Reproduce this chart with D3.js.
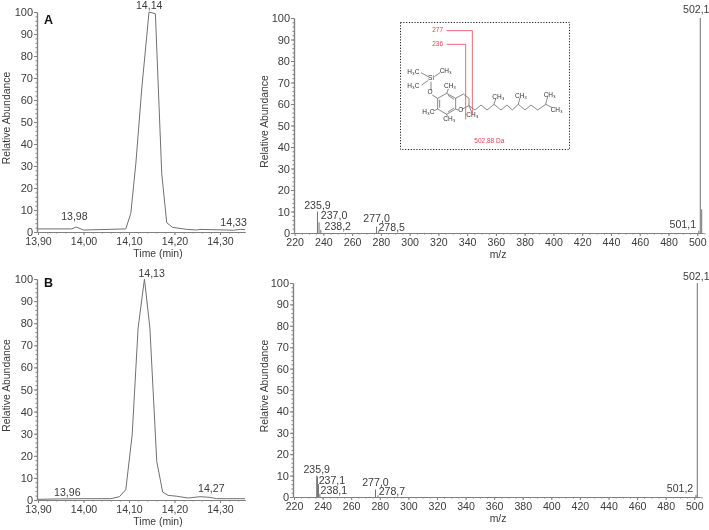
<!DOCTYPE html>
<html><head><meta charset="utf-8">
<script src="https://cdn.jsdelivr.net/npm/d3@7"></script>
<style>
html,body{margin:0;padding:0;background:#fff}
svg{display:block;filter:blur(0.35px)}
text{font-family:"Liberation Sans",Arial,sans-serif;fill:#3c3c3c}
</style></head><body><div id="c"></div>
<script>
// ---- data ----
const yTicks = [0,10,20,30,40,50,60,70,80,90,100];
const timeTicks = [13.9,14.0,14.1,14.2,14.3];
const timeTickLabels = ["13,90","14,00","14,10","14,20","14,30"];
const mzTicks = [220,240,260,280,300,320,340,360,380,400,420,440,460,480,500];

const timeA = [13.899,13.974,13.984,14.0,14.093,14.104,14.115,14.128,14.144,14.158,14.172,14.183,14.196,14.227,14.249,14.256,14.315,14.33,14.345,14.355];
const abundA = [1.4,1.4,2.3,0.9,1.4,8.5,31,65,100,99.2,26.5,4.2,2.1,1.2,0.9,1.2,0.9,0.8,1.2,1.1];
const timeB = [13.899,13.95,14.0,14.06,14.079,14.093,14.107,14.12,14.134,14.146,14.161,14.174,14.186,14.205,14.23,14.256,14.278,14.293,14.355];
const abundB = [0.3,0.5,0.6,0.6,1.5,4.7,29.5,77.7,100,77.7,17.5,3.6,2.1,1.7,0.9,1.5,1.2,0.6,0.6];

const mzA = [235.9,237.0,238.2,277.0,278.5,501.1,502.1,503.1];
const intA = [10,5,1.5,3,1,1,100,11];
const mzB = [235.9,236.4,237.1,238.1,277.0,278.7,501.2,502.1];
const intB = [10,9.5,6,1.5,3.5,0.8,1,100];

const peakLabelsA = ["13,98","14,14","14,33"];
const peakTimesA = [13.98,14.14,14.33];
const peakAbundA = [2.3,100,1];
const peakLabelsB = ["13,96","14,13","14,27"];
const peakTimesB = [13.96,14.13,14.27];
const peakAbundB = [0.5,100,1.5];
const mzLabelsA = ["235,9","237,0","238,2","277,0","278,5","501,1","502,1"];
const mzLabelValsA = [235.9,237.0,238.2,277.0,278.5,501.1,502.1];
const mzLabelIntA = [10,5,1.5,3,1,1,100];
const mzLabelsB = ["235,9","237,1","238,1","277,0","278,7","501,2","502,1"];
const mzLabelValsB = [235.9,237.1,238.1,277.0,278.7,501.2,502.1];
const mzLabelIntB = [10,6,1.5,3.5,0.8,1,100];

// ---- layout ----
const W=709,H=530, ink="#707070", axisInk="#808080";
const FS=10.6;
const svg=d3.select("#c").append("svg").attr("width",W).attr("height",H);

const range=(a,b,s)=>d3.range(a,b+s/2,s);

function frame(o){
  const g=svg.append("g");
  const y=d3.scaleLinear().domain([0,100]).range([o.y0,o.y1]);
  const x=d3.scaleLinear().domain(o.xd).range(o.xr);
  const clean=s=>{s.selectAll("path,line").attr("stroke",axisInk).attr("stroke-width",1);s.select(".domain").attr("stroke-width",1.2);};
  const ya=g.append("g").attr("transform",`translate(${o.ax},0)`)
    .call(d3.axisLeft(y).tickValues(yTicks).tickSize(3).tickPadding(1).tickSizeOuter(0));
  ya.call(clean); ya.selectAll("text").attr("font-size",FS+0.4).attr("fill","#3c3c3c");
  g.append("g").attr("transform",`translate(${o.ax},0)`)
    .call(d3.axisLeft(y).tickValues(range(0,100,2)).tickSize(1.5).tickFormat("").tickSizeOuter(0)).call(clean);
  const xa=g.append("g").attr("transform",`translate(0,${o.y0})`)
    .call(d3.axisBottom(x).tickValues(o.xt).tickSize(3).tickPadding(2).tickSizeOuter(0)
      .tickFormat(o.xf));
  xa.call(clean); xa.selectAll("text").attr("font-size",FS).attr("fill","#3c3c3c");
  g.append("g").attr("transform",`translate(0,${o.y0})`)
    .call(d3.axisBottom(x).tickValues(o.minor).tickSize(1.5).tickFormat("").tickSizeOuter(0)).call(clean);
  g.append("text").attr("x",o.xtitle).attr("y",o.y0+25).attr("text-anchor","middle")
    .attr("font-size",FS-0.2).text(o.xlabel);
  g.append("text").attr("transform",`translate(${o.ylx},${(o.y0+o.y1)/2-4}) rotate(-90)`)
    .attr("text-anchor","middle").attr("font-size",FS-0.2).text("Relative Abundance");
  return {g,x,y};
}

function chrom(o,times,abund,lt,la,ll,dx,dy,letter,ly){
  const f=frame({...o,xd:[13.9,14.355],xr:[38,245],xt:timeTicks,
    xf:(d,i)=>timeTickLabels[i],minor:range(13.9,14.35,0.02),xtitle:158,xlabel:"Time (min)",ylx:10,ax:37});
  f.g.append("path").datum(times.map((t,i)=>[t,abund[i]]))
    .attr("fill","none").attr("stroke",ink).attr("stroke-width",1)
    .attr("d",d3.line().x(d=>f.x(d[0])).y(d=>f.y(d[1])));
  f.g.selectAll(".pl").data(ll).join("text").attr("text-anchor","middle").attr("font-size",FS)
    .attr("x",(d,i)=>f.x(lt[i])+dx[i]).attr("y",(d,i)=>f.y(la[i])+dy[i]).text(d=>d);
  f.g.append("text").attr("x",44).attr("y",ly).attr("font-size",12.5).attr("font-weight","bold")
    .style("fill","#111").text(letter);
}

function spectrum(o,mz,inten,lv,li,ll,dx,dy){
  const f=frame({...o,xd:[220,504],xt:mzTicks,xf:d=>d,minor:range(220,504,5),
    xtitle:498,xlabel:"m/z",ylx:268});
  f.g.selectAll(".st").data(mz).join("line")
    .attr("x1",d=>f.x(d)).attr("x2",d=>f.x(d))
    .attr("y1",f.y(0)).attr("y2",(d,i)=>f.y(inten[i]))
    .attr("stroke",ink).attr("stroke-width",1);
  f.g.selectAll(".ml").data(ll).join("text").attr("text-anchor","middle").attr("font-size",FS)
    .attr("x",(d,i)=>f.x(lv[i])+dx[i]).attr("y",(d,i)=>f.y(li[i])+dy[i]).text(d=>d);
}

chrom({y0:232,y1:12},timeA,abundA,peakTimesA,peakAbundA,peakLabelsA,[0,2,0],[-7,-3,-4],"A",24);
chrom({y0:500,y1:279},timeB,abundB,peakTimesB,peakAbundB,peakLabelsB,[2,9,5],[-3,-2,-5],"B",287);

spectrum({y0:233,y1:18,ax:294,xr:[294.6,703]},mzA,intA,mzLabelValsA,mzLabelIntA,mzLabelsA,
  [0,15,17,0,13,-16,-4],[-3,-3,0,-5,0,-3,-5]);
spectrum({y0:497,y1:283,ax:293,xr:[294,700]},mzB,intB,mzLabelValsB,mzLabelIntB,mzLabelsB,
  [0,13.5,14,0,14,-16,-1],[-3,0,0,-3.5,0,-3,-3]);

// ---- inset: molecular structure ----
const red="#e0454f";
const ins=svg.append("g");
const zx=d3.scaleLinear().domain([0,180]).range([395,575]);
const zy=d3.scaleLinear().domain([0,140]).range([15,155]);
const P=(a,b)=>[zx(a/3),zy(b/3)];
ins.append("rect").attr("x",400.5).attr("y",22.5).attr("width",169).attr("height",127)
  .attr("fill","none").attr("stroke","#222").attr("stroke-width",1).attr("stroke-dasharray","1.2 1.6");
const bonds=[
 [[155,235],[128,250],[128,282],[155,298],[182,282],[182,250],[155,235]],
 [[134,254],[134,278]],[[159,291],[177,279]],[[159,241],[177,253]],
 [[182,250],[205,237],[222,250],[222,272],[200,283]],[[182,282],[190,286]],
 [[128,250],[112,240]],[[108,226],[108,200]],
 [[100,185],[78,173]],[[118,185],[135,173]],[[100,196],[80,210]],
 [[155,235],[160,222]],[[128,282],[115,288]],[[155,298],[157,304]],
 [[222,272],[230,292]],
 [[222,272],[240,285],[258,270],[276,285],[297,268],[318,285],[336,270],[352,285],[370,268],[390,285],[408,270],[428,285],[452,268],[472,278]],
 [[297,268],[302,252]],[[370,268],[375,248]],[[452,268],[458,245]]
];
ins.selectAll(".b").data(bonds).join("path").attr("fill","none").attr("stroke","#555").attr("stroke-width",0.7)
  .attr("d",d=>d3.line()(d.map(p=>P(p[0],p[1]))));
const atoms=[["H₃C",55,172],["CH₃",152,170],["Si",108,190],["H₃C",55,215],["O",105,233],["CH₃",165,213],
 ["H₃C",100,291],["CH₃",163,312],["O",197,287],["CH₃",232,302],["CH₃",310,247],["CH₃",378,243],["CH₃",464,241],["CH₃",485,285]];
ins.selectAll(".a").data(atoms).join("text").attr("text-anchor","middle").attr("dominant-baseline","middle")
  .attr("font-size",6.5).style("fill","#333")
  .attr("x",d=>P(d[1],d[2])[0]).attr("y",d=>P(d[1],d[2])[1]).text(d=>d[0]);
const frag=[["277",[[155,47],[232,47],[232,300]],128,47],["236",[[155,88],[212,88],[212,313]],128,88]];
frag.forEach(f=>{
  ins.append("path").attr("fill","none").attr("stroke",red).attr("stroke-width",0.8)
    .attr("d",d3.line()(f[1].map(p=>P(p[0],p[1]))));
  ins.append("text").attr("text-anchor","middle").attr("dominant-baseline","middle").attr("font-size",6.5)
    .style("fill",red).attr("x",P(f[2],f[3])[0]).attr("y",P(f[2],f[3])[1]).text(f[0]);
});
ins.append("text").attr("text-anchor","middle").attr("dominant-baseline","middle").attr("font-size",6.5)
  .style("fill",red).attr("x",P(283,379)[0]).attr("y",P(283,379)[1]).text("502,88 Da");
</script></body></html>
